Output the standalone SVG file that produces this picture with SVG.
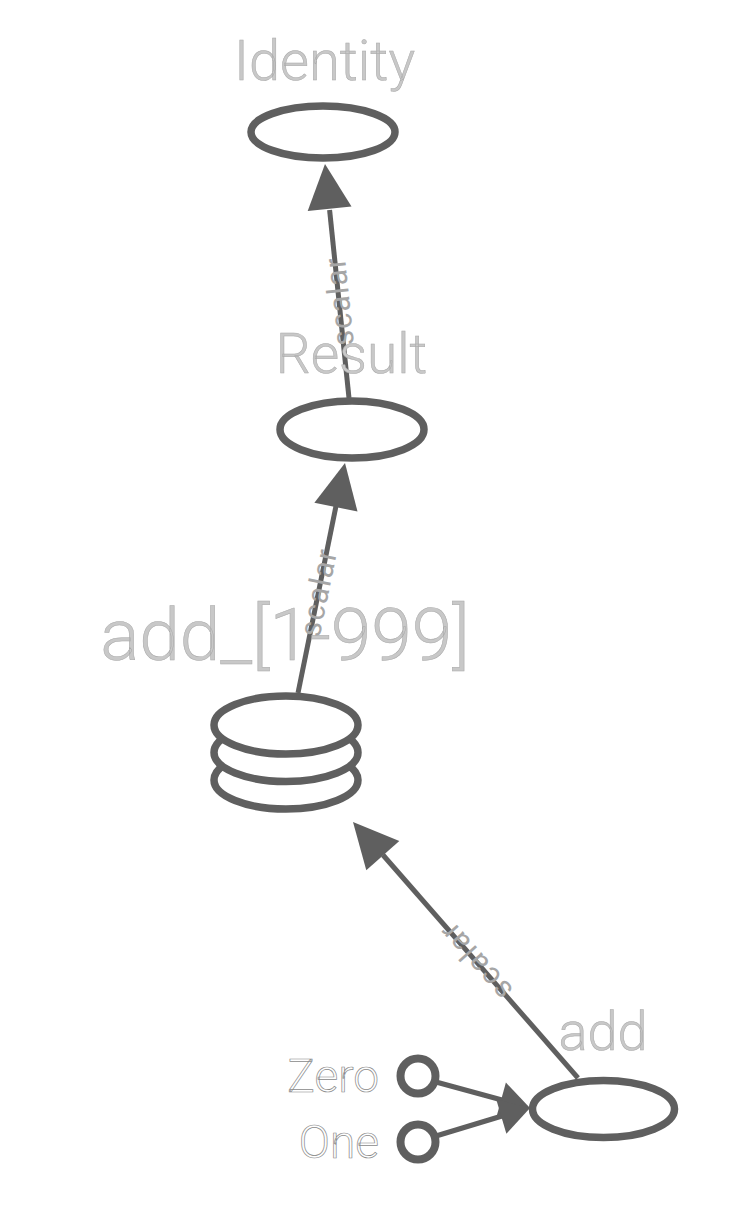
<svg xmlns="http://www.w3.org/2000/svg" width="738" height="1220" viewBox="0 0 738 1220">
<style>
.node{fill:#ffffff;stroke:#5f5f5f;stroke-width:7.5}
.port{fill:#ffffff;stroke:#5f5f5f;stroke-width:8}
.edge{stroke:#5f5f5f;stroke-width:5;fill:none}
.head{fill:#5f5f5f;stroke:none}
.lbl{font-family:Roboto,"Liberation Sans",sans-serif;font-weight:300;fill:#c8c8c8;stroke:#a8a8a8;stroke-width:0.5;text-anchor:middle}
.plbl{font-family:Roboto,"Liberation Sans",sans-serif;font-weight:300;fill:#ffffff;stroke:#8a8a8a;stroke-width:0.7;text-anchor:end;font-size:46px}
.elbl{font-family:Roboto,"Liberation Sans",sans-serif;fill:#a6a6a6;font-size:30px;text-anchor:middle;dominant-baseline:central}
</style>
<rect width="738" height="1220" fill="#ffffff"/>
<g id="connectors">
  <line class="edge" x1="349" y1="398" x2="329.6" y2="210"/>
  <polygon class="head" points="325,164 351.5,206.5 307.7,211"/>
  <line class="edge" x1="298" y1="693" x2="336" y2="506"/>
  <polygon class="head" points="345,463 357.5,511.5 314.4,502.7"/>
  <line class="edge" x1="578" y1="1078" x2="383" y2="855"/>
  <polygon class="head" points="353,822 399.3,841.1 366.3,870.3"/>
  <line class="edge" x1="436" y1="1082" x2="502" y2="1100"/>
  <polygon class="head" points="530,1108 496.3,1117.4 505.9,1082.6"/>
  <line class="edge" x1="436" y1="1136" x2="502" y2="1116"/>
  <polygon class="head" points="530,1108 506.4,1133.7 496.2,1099.3"/>
  <text class="elbl" transform="translate(339,302) rotate(-95.9)" textLength="88" lengthAdjust="spacing">scalar</text>
  <text class="elbl" transform="translate(318,593) rotate(-78.4)" textLength="88" lengthAdjust="spacing">scalar</text>
  <text class="elbl" transform="translate(476,962) rotate(-131.5)" textLength="92" lengthAdjust="spacing">scalar</text>
</g>
<g id="identity">
  <ellipse class="node" cx="323" cy="132" rx="72" ry="26"/>
  <text class="lbl" x="324.5" y="80" font-size="56">Identity</text>
</g>
<g id="result">
  <ellipse class="node" cx="352" cy="429.5" rx="72" ry="28.5"/>
  <text class="lbl" x="351.5" y="373" font-size="55">Result</text>
</g>
<g id="add_stack">
  <ellipse class="node" cx="286" cy="780" rx="72" ry="29"/>
  <ellipse class="node" cx="286" cy="752.5" rx="72" ry="29"/>
  <ellipse class="node" cx="286" cy="725" rx="72" ry="29"/>
  <text class="lbl" x="285" y="660" font-size="73">add_[1-999]</text>
</g>
<g id="add">
  <ellipse class="node" cx="603.5" cy="1109" rx="71" ry="28.5"/>
  <text class="lbl" x="603" y="1050" font-size="54">add</text>
</g>
<g id="zero">
  <circle class="port" cx="418" cy="1076" r="17.5"/>
  <text class="plbl" x="379" y="1092">Zero</text>
</g>
<g id="one">
  <circle class="port" cx="418" cy="1142" r="17.5"/>
  <text class="plbl" x="379" y="1158">One</text>
</g>
</svg>
